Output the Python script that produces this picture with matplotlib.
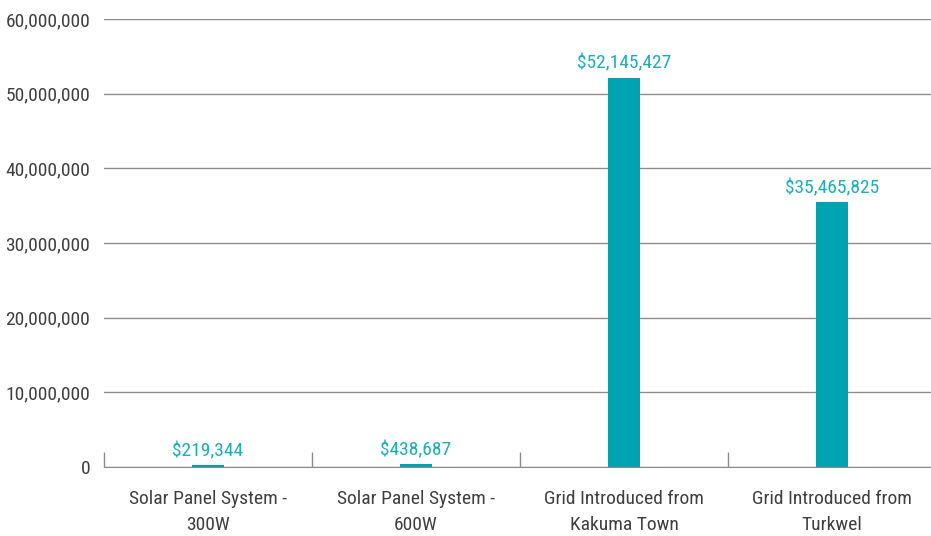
import matplotlib
matplotlib.use("Agg")
import matplotlib.pyplot as plt
from matplotlib.ticker import FuncFormatter

# data
categories = ["Solar Panel System -\n300W", "Solar Panel System -\n600W",
              "Grid Introduced from\nKakuma Town", "Grid Introduced from\nTurkwel"]
costs = [219344, 438687, 52145427, 35465825]
yticks = [0, 10000000, 20000000, 30000000, 40000000, 50000000, 60000000]

plt.rcParams['font.family'] = ['Roboto Condensed', 'Roboto', 'DejaVu Sans']

fig = plt.figure(figsize=(9.31, 5.36), dpi=100)
ax = fig.add_axes([104/931, 1-467/536, 832/931, 448/536])

x = list(range(len(categories)))
ax.bar(x, costs, width=0.155, color="#00A3B1", zorder=3)

# value labels above bars
for xi, v in zip(x, costs):
    ax.annotate("${:,}".format(v), (xi, v), xytext=(0, 3.5), textcoords="offset points",
                ha="center", va="bottom", color="#1AAFBF", fontsize=14)

ax.set_xlim(-0.5, 3.5)
ax.set_ylim(0, 60000000)
ax.set_yticks(yticks)
ax.yaxis.set_major_formatter(FuncFormatter(lambda v, p: "{:,.0f}".format(v)))
ax.grid(axis="y", color="#8c8c8c", linewidth=1, zorder=0)

# category labels and separator ticks
ax.set_xticks(x)
ax.set_xticklabels(categories, fontsize=14, color="#404040", linespacing=1.6)
ax.tick_params(axis="x", length=0, pad=16.5)
ax.set_xticks([-0.5, 0.5, 1.5, 2.5, 3.5], minor=True)
ax.tick_params(axis="x", which="minor", direction="in", length=11, color="#8c8c8c", width=1)
ax.tick_params(axis="y", length=0, pad=10, labelsize=14, labelcolor="#404040")

for s in ["top", "right", "left"]:
    ax.spines[s].set_visible(False)
ax.spines["bottom"].set_color("#8c8c8c")
ax.spines["bottom"].set_zorder(4)

plt.savefig("out.png", dpi=100)
